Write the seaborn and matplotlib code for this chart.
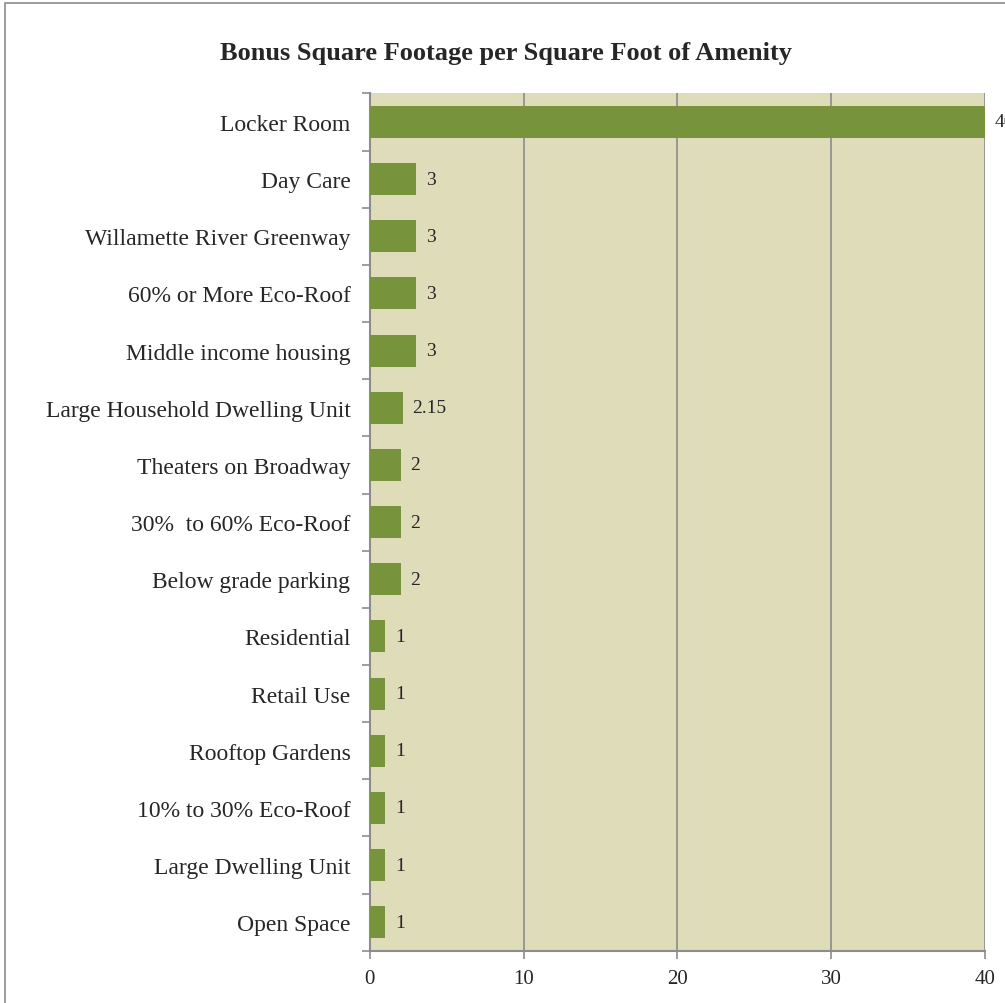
import matplotlib
matplotlib.use('Agg')
import matplotlib.pyplot as plt
import seaborn as sns
import pandas as pd
from matplotlib.patches import Rectangle

sns.set_style('white')
plt.rcParams['font.family'] = ['Liberation Serif', 'DejaVu Serif']

amenities = ['Locker Room', 'Day Care', 'Willamette River Greenway',
             '60% or More Eco-Roof', 'Middle income housing',
             'Large Household Dwelling Unit', 'Theaters on Broadway',
             '30%  to 60% Eco-Roof', 'Below grade parking', 'Residential',
             'Retail Use', 'Rooftop Gardens', '10% to 30% Eco-Roof',
             'Large Dwelling Unit', 'Open Space']
bonus = [40, 3, 3, 3, 3, 2.15, 2, 2, 2, 1, 1, 1, 1, 1, 1]
bonus_labels = ['40', '3', '3', '3', '3', '2.15', '2', '2', '2',
                '1', '1', '1', '1', '1', '1']

df = pd.DataFrame({'amenity': amenities, 'bonus': bonus})

fig = plt.figure(figsize=(10.05, 10.04), dpi=100)
ax = fig.add_axes([0.368, 0.052, 0.612, 0.854])

sns.barplot(data=df, x='bonus', y='amenity', color='#77933C', saturation=1,
            width=0.56, linewidth=0, ax=ax, zorder=3)

ax.set_facecolor('#DFDCBA')
ax.set_xlim(0, 40)
ax.set_ylim(len(amenities) - 0.5, -0.5)
ax.set_xticks([0, 10, 20, 30, 40])
ax.xaxis.grid(True, color='#8C8C8C', linewidth=1.2, zorder=1)
ax.set_axisbelow(True)
ax.set_xlabel('')
ax.set_ylabel('')

# category boundary ticks like the spreadsheet chart
ax.set_yticks(range(len(amenities)))
ax.set_yticklabels(amenities, fontsize=17)
ax.tick_params(axis='y', which='major', left=False, length=0, pad=14)
ax.set_yticks([i - 0.5 for i in range(len(amenities) + 1)], minor=True)
ax.tick_params(axis='y', which='minor', left=True, length=6,
               color='#8C8C8C', width=1.2)
ax.tick_params(axis='x', bottom=True, length=6, color='#8C8C8C', width=1.2,
               labelsize=15, pad=7)

for side in ['top', 'right']:
    ax.spines[side].set_visible(False)
for side in ['left', 'bottom']:
    ax.spines[side].set_color('#8C8C8C')
    ax.spines[side].set_linewidth(1.5)

for i, (v, lab) in enumerate(zip(bonus, bonus_labels)):
    ax.annotate(lab, (v, i), xytext=(7, 0), textcoords='offset points',
                va='center', ha='left', fontsize=14, annotation_clip=False)

fig.suptitle('Bonus Square Footage per Square Foot of Amenity', x=0.503,
             y=0.958, fontsize=19, fontweight='bold')

fig.patches.append(Rectangle((0.005, -0.1), 1.1, 1.096, transform=fig.transFigure,
                             fill=False, edgecolor='#8C8C8C', linewidth=1.2))

fig.savefig('out.png', dpi=100)
